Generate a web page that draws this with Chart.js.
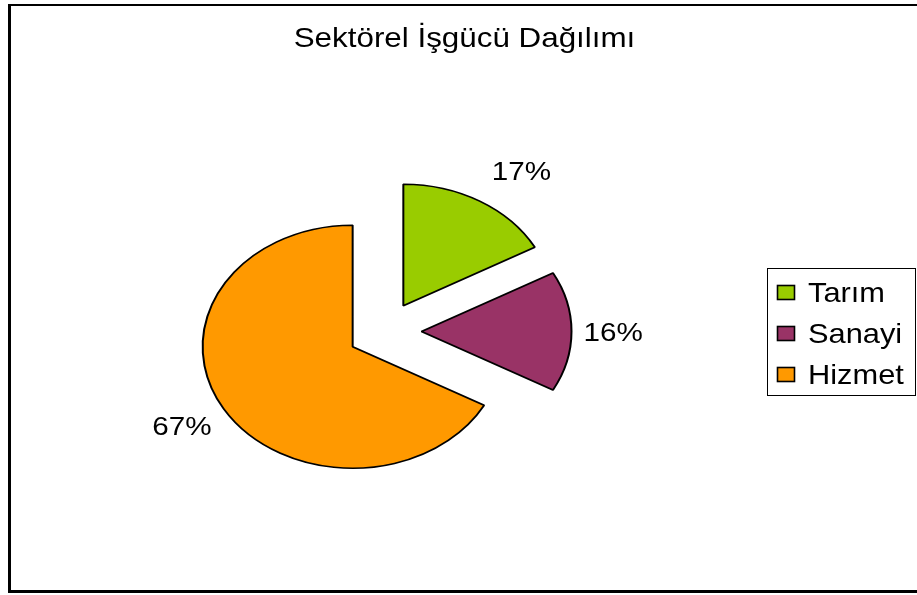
<!DOCTYPE html>
<html>
<head>
<meta charset="utf-8">
<script src="https://cdn.jsdelivr.net/npm/chart.js@4"></script>
<style>
    html, body { margin:0; padding:0; background:#fff; }
    #wrap { position:relative; width:917px; height:595px; overflow:hidden; }
    #frame { position:absolute; left:8px; top:4px; width:930px; height:589px; box-sizing:border-box; border:solid #000; border-width:2px 0 3px 3px; }
    canvas { position:absolute; left:0; top:0; }
</style>
</head>
<body>
<div id="wrap">
    <div id="frame"></div>
    <canvas id="chart-pie" width="917" height="595"></canvas>
</div>
<script>
const chartTitle = 'Sektörel İşgücü Dağılımı';
const sectors = ['Tarım', 'Sanayi', 'Hizmet'];
const shares = [17, 16, 67];
const sliceColors = ['#99CC00', '#993366', '#FF9900'];

// excel-ish look: flattened, exploded pie
const SQUASH = 0.81;
const EXPLODE = 37;
const FONT = '"Liberation Sans", Arial, sans-serif';

function stretchedText(ctx, text, x, y, size, sx, align) {
    ctx.save();
    ctx.font = `${size}px ${FONT}`;
    const w = ctx.measureText(text).width * sx;
    const left = align === 'center' ? x - w / 2 : (align === 'right' ? x - w : x);
    ctx.translate(left, y);
    ctx.scale(sx, 1);
    ctx.textAlign = 'left';
    ctx.textBaseline = 'alphabetic';
    ctx.fillStyle = '#000';
    ctx.fillText(text, 0, 0);
    ctx.restore();
    return w;
}

const excelPie = {
    id: 'excelPie',
    beforeDatasetsDraw(chart) {
        const ctx = chart.ctx;
        const arcs = chart.getDatasetMeta(0).data;
        const cx = arcs[0].x, cy = arcs[0].y;
        ctx.save();
        ctx.translate(cx, cy);
        ctx.scale(1, SQUASH);
        ctx.translate(-cx, -cy);
        arcs.forEach(arc => {
            const mid = (arc.startAngle + arc.endAngle) / 2;
            ctx.save();
            ctx.translate(Math.cos(mid) * EXPLODE, Math.sin(mid) * EXPLODE);
            arc.draw(ctx);
            ctx.restore();
        });
        ctx.restore();
        return false;
    },
    afterDraw(chart) {
        const ctx = chart.ctx;
        const arcs = chart.getDatasetMeta(0).data;
        const cx = arcs[0].x, cy = arcs[0].y;

        // title
        stretchedText(ctx, chartTitle, chart.width / 2 + 6, 47, 28, 1.12, 'center');

        // percent labels, outside end
        arcs.forEach((arc, i) => {
            const mid = (arc.startAngle + arc.endAngle) / 2;
            const r = arc.outerRadius + EXPLODE;
            const ox = cx + Math.cos(mid) * r;
            const oy = cy + Math.sin(mid) * r * SQUASH;
            let nx = Math.cos(mid), ny = Math.sin(mid) * SQUASH;
            const len = Math.hypot(nx, ny);
            nx /= len; ny /= len;
            const txt = shares[i] + '%';
            ctx.font = `26px ${FONT}`;
            const w = ctx.measureText(txt).width * 1.14;
            const sgn = Math.abs(nx) < 0.05 ? 0 : Math.sign(nx);
            const lx = ox + sgn * (w / 2 + 12);
            const ly = oy + ny * 38;
            stretchedText(ctx, txt, lx, ly + 9.5, 26, 1.14, 'center');
        });

        // legend with frame
        const bw = 148, bh = 127;
        const bx = chart.width - 2 - bw;
        const by = Math.round(cy - bh / 2);
        ctx.save();
        ctx.strokeStyle = '#000';
        ctx.lineWidth = 1;
        ctx.strokeRect(bx + 0.5, by + 0.5, bw, bh);
        sectors.forEach((s, i) => {
            const rowY = by + 24.5 + i * 41;
            ctx.fillStyle = sliceColors[i];
            ctx.fillRect(bx + 10.5, rowY - 7, 17, 14);
            ctx.lineWidth = 1.6;
            ctx.strokeRect(bx + 10.5, rowY - 7, 17, 14);
            stretchedText(ctx, s, bx + 41, rowY + 9, 28, 1.1, 'left');
        });
        ctx.restore();
    }
};

const ctxPie = document.getElementById('chart-pie');
new Chart(ctxPie.getContext('2d'), {
    type: 'pie',
    data: {
        labels: sectors,
        datasets: [{ data: shares, backgroundColor: sliceColors, borderColor: '#000', borderWidth: 2, radius: 150 }]
    },
    options: {
        responsive: false,
        animation: false,
        devicePixelRatio: 1,
        layout: { padding: { left: 0, right: 148, top: 68, bottom: 0 } },
        plugins: { legend: { display: false }, title: { display: false }, tooltip: { enabled: false } }
    },
    plugins: [excelPie]
});
</script>
</body>
</html>
